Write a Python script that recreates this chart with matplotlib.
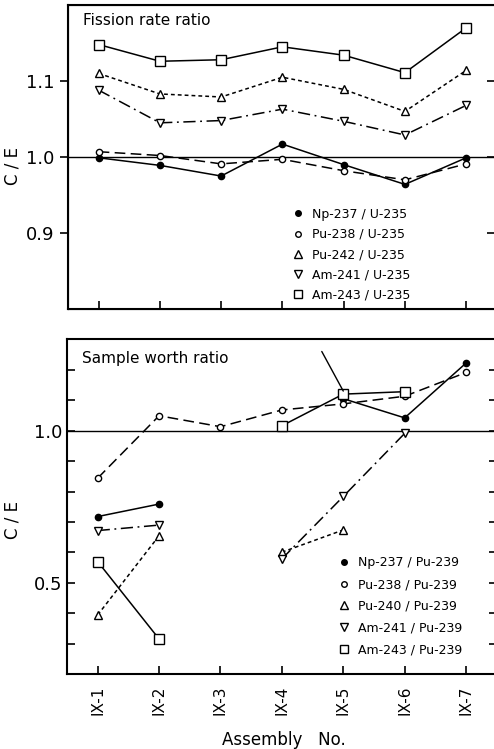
import numpy as np
import matplotlib
matplotlib.use('Agg')
import matplotlib.pyplot as plt
from matplotlib.lines import Line2D

nan = np.nan

# assemblies
assemblies = ['IX-1', 'IX-2', 'IX-3', 'IX-4', 'IX-5', 'IX-6', 'IX-7']

# fission rate ratio C/E
fis_labels = ['Np-237 / U-235', 'Pu-238 / U-235', 'Pu-242 / U-235',
              'Am-241 / U-235', 'Am-243 / U-235']
fis_np237 = [0.999, 0.989, 0.975, 1.017, 0.990, 0.964, 0.999]
fis_pu238 = [1.007, 1.002, 0.991, 0.997, 0.982, 0.970, 0.991]
fis_pu242 = [1.110, 1.083, 1.079, 1.105, 1.089, 1.060, 1.114]
fis_am241 = [1.088, 1.045, 1.048, 1.063, 1.047, 1.029, 1.068]
fis_am243 = [1.148, 1.126, 1.128, 1.145, 1.134, 1.111, 1.170]

# sample worth ratio C/E
sw_labels = ['Np-237 / Pu-239', 'Pu-238 / Pu-239', 'Pu-240 / Pu-239',
             'Am-241 / Pu-239', 'Am-243 / Pu-239']
sw_np237 = [0.718, 0.759, nan, nan, 1.105, 1.042, 1.222]
sw_pu238 = [0.844, 1.049, 1.013, 1.068, 1.088, 1.113, 1.191]
sw_pu240 = [0.395, 0.655, nan, 0.601, 0.674, nan, nan]
sw_am241 = [0.672, 0.690, nan, 0.579, 0.784, 0.991, nan]
sw_am243 = [0.570, 0.316, nan, 1.016, 1.120, 1.128, nan]

x = np.arange(1, len(assemblies) + 1)

# styles: (marker, facecolor, markersize, linestyle)
styles = [
    ('o', 'black', 4.5, '-'),
    ('o', 'white', 4.5, (0, (7, 3.5))),
    ('^', 'white', 6, (0, (2.5, 2))),
    ('v', 'white', 6, (0, (8, 3, 1.2, 3))),
    ('s', 'white', 6.5, '-'),
]

plt.rcParams['font.family'] = 'DejaVu Sans'

fig = plt.figure(figsize=(4.94, 7.49), dpi=100)
ax1 = fig.add_axes([0.1377, 0.5874, 0.868, 0.4059])
ax2 = fig.add_axes([0.1356, 0.0997, 0.870, 0.4473])


def draw(ax, series, labels):
    handles = []
    for ys, lab, (m, fc, ms, ls) in zip(series, labels, styles):
        ax.plot(x, ys, color='black', lw=1.1, linestyle=ls, marker=m,
                markersize=ms, markerfacecolor=fc, markeredgecolor='black',
                markeredgewidth=1.0)
        handles.append(Line2D([], [], linestyle='none', marker=m, color='black',
                              markersize=ms - 0.5, markerfacecolor=fc,
                              markeredgewidth=1.0, label=lab))
    ax.axhline(1.0, color='black', lw=1.0, zorder=0)
    ax.set_xlim(0.5, 7.5)
    for s in ax.spines.values():
        s.set_linewidth(1.5)
    return handles


# top panel
h1 = draw(ax1, [fis_np237, fis_pu238, fis_pu242, fis_am241, fis_am243], fis_labels)
ax1.set_ylim(0.8, 1.2)
ax1.set_yticks([0.9, 1.0, 1.1])
ax1.set_yticklabels(['0.9', '1.0', '1.1'], fontsize=13)
ax1.set_xticks(x)
ax1.set_xticklabels([])
ax1.tick_params(axis='x', direction='in', length=6, width=1.2)
ax1.tick_params(axis='y', direction='out', length=6, width=1.2)
ax1r = ax1.twinx()
ax1r.set_ylim(0.8, 1.2)
ax1r.set_yticks([0.9, 1.0, 1.1])
ax1r.set_yticklabels([])
ax1r.tick_params(axis='y', direction='in', length=7, width=1.2)
ax1.set_ylabel('C / E', fontsize=12)
ax1.yaxis.set_label_coords(-0.108, 0.47)
ax1.text(0.035, 0.95, 'Fission rate ratio', transform=ax1.transAxes,
         fontsize=11, va='center', ha='left')
ax1.legend(handles=h1, loc='lower left', bbox_to_anchor=(0.496, -0.013),
           frameon=False, fontsize=9, handlelength=1.0, handletextpad=0.6,
           labelspacing=0.58)

# bottom panel
h2 = draw(ax2, [sw_np237, sw_pu238, sw_pu240, sw_am241, sw_am243], sw_labels)
ax2.set_ylim(0.2, 1.3)
ax2.set_yticks([0.5, 1.0])
ax2.set_yticklabels(['0.5', '1.0'], fontsize=13)
ax2.set_yticks(np.arange(0.3, 1.25, 0.1), minor=True)
ax2.tick_params(axis='y', which='both', direction='in', length=6, width=1.2,
                right=True)
ax2.set_xticks(x)
ax2.set_xticklabels(assemblies, rotation=90, fontsize=11)
ax2.tick_params(axis='x', direction='in', length=6, width=1.2, pad=8)
ax2.set_ylabel('C / E', fontsize=12)
ax2.yaxis.set_label_coords(-0.106, 0.46)
ax2.set_xlabel('Assembly   No.', fontsize=12)
ax2.xaxis.set_label_coords(0.505, -0.17)
ax2.text(0.035, 0.944, 'Sample worth ratio', transform=ax2.transAxes,
         fontsize=11, va='center', ha='left')
ax2.annotate('', xy=(5.0, 1.13), xytext=(4.65, 1.26),
             arrowprops=dict(arrowstyle='-', color='black', lw=1.0,
                             shrinkA=0, shrinkB=0))
ax2.legend(handles=h2, loc='lower left', bbox_to_anchor=(0.604, 0.02),
           frameon=False, fontsize=9, handlelength=1.0, handletextpad=0.6,
           labelspacing=0.7)

fig.savefig('out.png', dpi=100)
